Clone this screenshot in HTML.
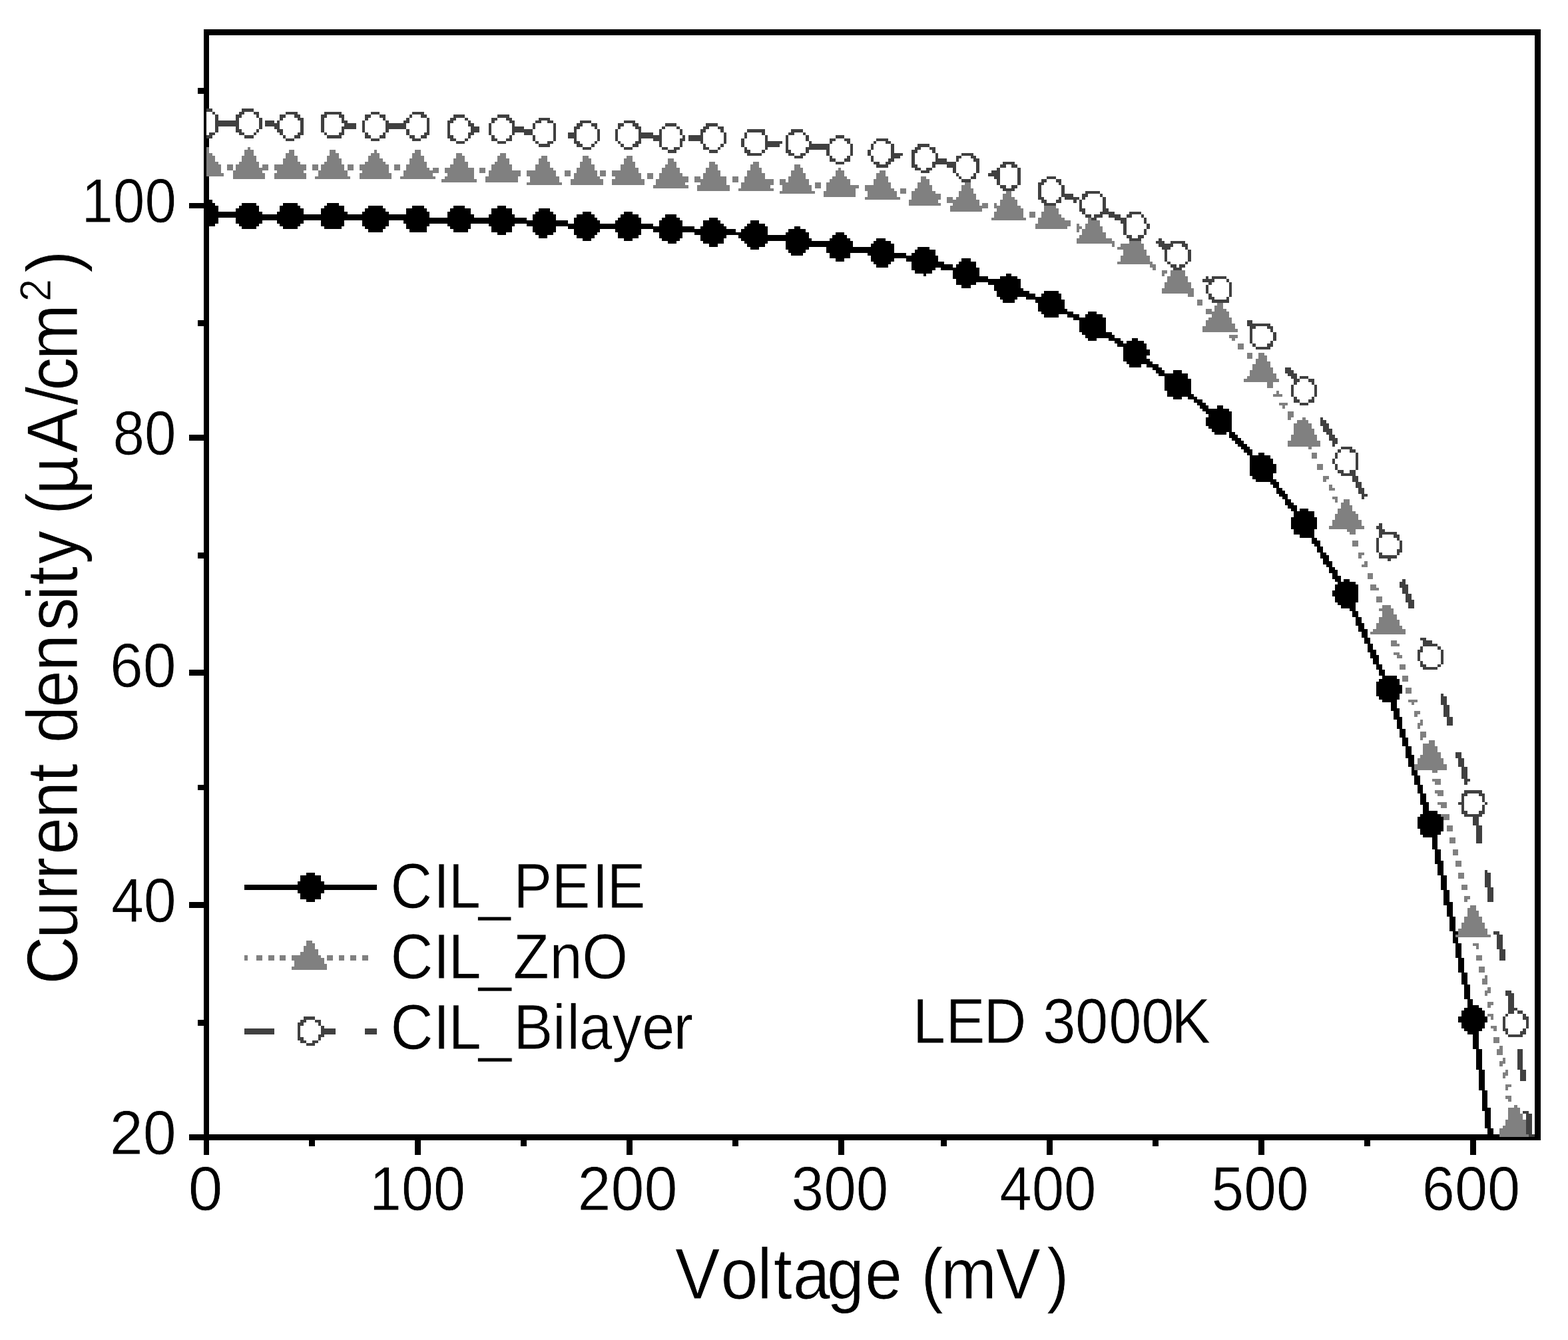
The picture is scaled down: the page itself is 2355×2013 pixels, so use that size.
<!DOCTYPE html>
<html lang="en">
<head>
<meta charset="utf-8">
<title>Current density vs Voltage</title>
<style>
html,body{margin:0;padding:0;background:#fff;}
body{width:2355px;height:2013px;overflow:hidden;}
svg{display:block;}
text{font-family:"Liberation Sans",Arial,Helvetica,sans-serif;fill:#000;stroke:#fff;stroke-width:0.8px;font-kerning:none;text-rendering:geometricPrecision;}
</style>
</head>
<body>
<svg width="2355" height="2013" viewBox="0 0 2355 2013" role="img" aria-label="Current density versus voltage for CIL_PEIE, CIL_ZnO and CIL_Bilayer under LED 3000K">
<rect x="0" y="0" width="2355" height="2013" fill="#fff"/>
<g shape-rendering="crispEdges" fill="#000">
<rect x="306" y="44" width="2008" height="9"/>
<rect x="306" y="1704" width="2008" height="9"/>
<rect x="306" y="44" width="8" height="1691"/>
<rect x="2305" y="44" width="9" height="1669"/>
<rect x="284" y="305" width="22" height="8"/>
<rect x="284" y="653" width="22" height="9"/>
<rect x="284" y="1006" width="22" height="9"/>
<rect x="284" y="1355" width="22" height="9"/>
<rect x="284" y="1704" width="22" height="9"/>
<rect x="297" y="132" width="9" height="9"/>
<rect x="297" y="481" width="9" height="9"/>
<rect x="297" y="830" width="9" height="9"/>
<rect x="297" y="1179" width="9" height="8"/>
<rect x="297" y="1532" width="9" height="9"/>
<rect x="623" y="1713" width="9" height="22"/>
<rect x="941" y="1713" width="9" height="22"/>
<rect x="1259" y="1713" width="9" height="22"/>
<rect x="1572" y="1713" width="9" height="22"/>
<rect x="1890" y="1713" width="9" height="22"/>
<rect x="2208" y="1713" width="9" height="22"/>
<rect x="464" y="1713" width="9" height="9"/>
<rect x="782" y="1713" width="9" height="9"/>
<rect x="1100" y="1713" width="9" height="9"/>
<rect x="1413" y="1713" width="9" height="9"/>
<rect x="1731" y="1713" width="9" height="9"/>
<rect x="2049" y="1713" width="9" height="9"/>
</g>
<g shape-rendering="crispEdges">
<path fill="#000" d="M310 300h9v5h-9zM363 305h22v4h-22zM310 305h13v4h-13zM425 305h22v4h-22zM491 305h18v4h-18zM420 309h31v4h-31zM619 309h18v4h-18zM359 309h30v4h-30zM747 309h13v4h-13zM487 309h30v4h-30zM681 309h17v4h-17zM553 309h22v4h-22zM310 309h18v9h-18zM482 313h35v5h-35zM548 313h31v5h-31zM420 313h36v5h-36zM676 313h31v5h-31zM809 313h17v5h-17zM354 313h35v5h-35zM610 313h31v5h-31zM738 313h31v9h-31zM544 318h40v4h-40zM416 318h40v4h-40zM672 318h35v4h-35zM310 318h84v4h-84zM875 318h13v4h-13zM482 318h40v4h-40zM804 318h27v4h-27zM610 318h35v4h-35zM937 318h13v4h-13zM310 322h335v5h-335zM866 322h27v5h-27zM999 322h17v5h-17zM734 322h39v5h-39zM932 322h27v5h-27zM672 322h40v5h-40zM800 322h35v9h-35zM994 327h27v4h-27zM1065 327h13v4h-13zM928 327h35v4h-35zM862 327h35v4h-35zM354 327h437v4h-437zM310 327h18v9h-18zM1127 331h13v5h-13zM416 331h40v5h-40zM606 331h247v5h-247zM924 331h39v5h-39zM862 331h39v5h-39zM354 331h40v5h-40zM1056 331h26v5h-26zM482 331h35v9h-35zM544 331h40v9h-40zM990 331h35v9h-35zM672 336h35v4h-35zM310 336h13v4h-13zM1056 336h31v4h-31zM420 336h31v4h-31zM359 336h30v4h-30zM734 336h39v4h-39zM791 336h190v4h-190zM610 336h35v4h-35zM1122 336h27v4h-27zM363 340h22v4h-22zM548 340h31v4h-31zM1052 340h39v4h-39zM676 340h31v4h-31zM487 340h26v4h-26zM1193 340h9v4h-9zM853 340h190v4h-190zM425 340h22v4h-22zM1118 340h35v4h-35zM610 340h31v4h-31zM738 340h31v9h-31zM800 340h35v9h-35zM615 344h26v5h-26zM924 344h39v5h-39zM862 344h39v5h-39zM981 344h124v5h-124zM681 344h22v5h-22zM1184 344h26v5h-26zM553 344h22v5h-22zM1113 344h40v5h-40zM928 349h35v4h-35zM747 349h13v4h-13zM862 349h35v4h-35zM1180 349h35v4h-35zM804 349h27v4h-27zM1043 349h110v4h-110zM1255 349h13v4h-13zM990 349h35v9h-35zM1052 353h39v5h-39zM1250 353h22v5h-22zM928 353h31v5h-31zM866 353h27v5h-27zM1109 353h106v5h-106zM809 353h13v5h-13zM1113 358h106v4h-106zM994 358h27v4h-27zM1246 358h31v4h-31zM1316 358h14v4h-14zM875 358h13v4h-13zM1052 358h35v4h-35zM937 358h13v4h-13zM1003 362h13v4h-13zM1056 362h31v4h-31zM1312 362h26v4h-26zM1118 362h35v4h-35zM1180 362h101v9h-101zM1122 366h27v5h-27zM1065 366h13v5h-13zM1308 366h35v5h-35zM1127 371h13v4h-13zM1378 371h18v4h-18zM1180 371h35v4h-35zM1241 371h102v9h-102zM1374 375h31v5h-31zM1184 375h26v5h-26zM1188 380h18v4h-18zM1369 380h36v4h-36zM1303 380h58v4h-58zM1246 380h31v8h-31zM1308 384h101v4h-101zM1444 388h14v5h-14zM1308 388h35v5h-35zM1361 388h48v5h-48zM1255 388h13v5h-13zM1440 393h26v4h-26zM1312 393h26v4h-26zM1369 393h49v4h-49zM1369 397h62v5h-62zM1436 397h30v5h-30zM1316 397h18v5h-18zM1369 402h36v4h-36zM1413 402h58v4h-58zM1374 406h26v5h-26zM1431 406h40v9h-40zM1511 411h8v4h-8zM1387 411h4v4h-4zM1502 415h26v4h-26zM1431 415h53v4h-53zM1436 419h97v5h-97zM1436 424h30v4h-30zM1484 424h49v4h-49zM1493 428h40v5h-40zM1444 428h14v5h-14zM1493 433h44v4h-44zM1568 437h22v4h-22zM1497 437h49v4h-49zM1564 441h30v5h-30zM1497 441h58v5h-58zM1502 446h26v4h-26zM1541 446h53v4h-53zM1555 450h44v5h-44zM1506 450h18v5h-18zM1559 455h40v9h-40zM1559 464h44v4h-44zM1634 468h13v4h-13zM1564 468h48v4h-48zM1568 472h22v5h-22zM1603 472h18v5h-18zM1630 472h26v5h-26zM1612 477h49v4h-49zM1621 481h40v18h-40zM1625 499h45v4h-45zM1630 503h44v5h-44zM1634 508h13v4h-13zM1700 508h9v4h-9zM1665 508h18v4h-18zM1692 512h26v4h-26zM1674 512h13v4h-13zM1678 516h44v5h-44zM1687 521h35v4h-35zM1687 525h40v9h-40zM1687 534h35v5h-35zM1687 539h40v4h-40zM1692 543h39v4h-39zM1722 547h18v5h-18zM1696 547h18v5h-18zM1731 552h14v4h-14zM1736 556h13v5h-13zM1762 556h13v5h-13zM1740 561h44v4h-44zM1749 565h35v4h-35zM1749 569h40v18h-40zM1753 587h36v5h-36zM1753 592h40v4h-40zM1784 596h14v4h-14zM1762 596h13v4h-13zM1793 600h13v5h-13zM1798 605h13v4h-13zM1828 609h9v5h-9zM1802 609h13v5h-13zM1806 614h40v4h-40zM1811 618h39v4h-39zM1815 622h35v5h-35zM1811 627h39v13h-39zM1815 640h35v4h-35zM1820 644h30v5h-30zM1824 649h18v4h-18zM1846 649h9v4h-9zM1846 653h13v5h-13zM1850 658h14v4h-14zM1855 662h13v5h-13zM1859 667h14v4h-14zM1864 671h13v4h-13zM1868 675h13v5h-13zM1873 680h8v4h-8zM1890 680h9v4h-9zM1877 684h31v5h-31zM1877 689h35v8h-35zM1877 697h40v14h-40zM1877 711h35v4h-35zM1881 715h31v5h-31zM1886 720h31v4h-31zM1908 724h13v4h-13zM1912 728h9v5h-9zM1917 733h9v4h-9zM1917 737h13v5h-13zM1921 742h13v4h-13zM1926 746h8v4h-8zM1930 750h9v5h-9zM1930 755h13v4h-13zM1934 759h14v5h-14zM1939 764h9v4h-9zM1952 764h13v4h-13zM1943 768h31v9h-31zM1939 777h39v18h-39zM1943 795h31v8h-31zM1952 803h22v5h-22zM1970 808h8v4h-8zM1970 812h13v5h-13zM1974 817h9v4h-9zM1978 821h9v9h-9zM1983 830h9v4h-9zM1983 834h13v5h-13zM1987 839h9v4h-9zM1987 843h14v5h-14zM1992 848h9v4h-9zM1996 852h9v4h-9zM1996 856h13v5h-13zM2001 861h8v4h-8zM2001 865h13v5h-13zM2018 870h9v4h-9zM2005 870h9v4h-9zM2009 874h27v4h-27zM2005 878h35v9h-35zM2001 887h39v9h-39zM2005 896h35v9h-35zM2009 905h27v4h-27zM2014 909h22v5h-22zM2027 914h9v4h-9zM2031 918h9v9h-9zM2036 927h9v9h-9zM2036 936h13v4h-13zM2040 940h9v5h-9zM2040 945h14v4h-14zM2045 949h9v9h-9zM2049 958h9v9h-9zM2054 967h8v9h-8zM2054 976h13v4h-13zM2058 980h9v4h-9zM2058 984h13v5h-13zM2062 989h9v9h-9zM2067 998h9v8h-9zM2071 1006h9v9h-9zM2076 1015h22v5h-22zM2071 1020h31v4h-31zM2067 1024h35v5h-35zM2067 1029h39v13h-39zM2067 1042h35v4h-35zM2071 1046h31v5h-31zM2076 1051h22v4h-22zM2089 1055h9v9h-9zM2089 1064h13v4h-13zM2093 1068h9v9h-9zM2093 1077h13v4h-13zM2098 1081h8v14h-8zM2102 1095h9v13h-9zM2106 1108h9v13h-9zM2111 1121h9v13h-9zM2111 1134h13v5h-13zM2115 1139h9v13h-9zM2120 1152h4v5h-4zM2120 1157h9v8h-9zM2124 1165h9v14h-9zM2129 1179h8v13h-8zM2133 1192h9v13h-9zM2133 1205h13v4h-13zM2137 1209h9v9h-9zM2137 1218h22v5h-22zM2133 1223h31v4h-31zM2129 1227h39v18h-39zM2133 1245h35v4h-35zM2133 1249h31v5h-31zM2137 1254h22v4h-22zM2151 1258h8v18h-8zM2155 1276h9v17h-9zM2155 1293h13v5h-13zM2159 1298h9v17h-9zM460 1311h13v4h-13zM451 1315h31v9h-31zM447 1324h40v5h-40zM2164 1315h9v22h-9zM367 1329h199v8h-199zM447 1337h40v5h-40zM451 1342h31v9h-31zM2168 1337h9v18h-9zM460 1351h13v4h-13zM2168 1355h14v5h-14zM2173 1360h9v17h-9zM2177 1377h9v22h-9zM2182 1399h8v5h-8zM2182 1404h4v4h-4zM2182 1408h8v9h-8zM2186 1417h9v22h-9zM2190 1439h9v22h-9zM2195 1461h9v18h-9zM2199 1479h9v22h-9zM2204 1501h8v9h-8zM2204 1510h17v4h-17zM2199 1514h27v4h-27zM2195 1518h35v9h-35zM2190 1527h44v9h-44zM2195 1536h35v9h-35zM2199 1545h27v4h-27zM2204 1549h17v5h-17zM2212 1554h9v22h-9zM2217 1576h9v31h-9zM2221 1607h9v31h-9zM2226 1638h8v26h-8zM2226 1664h13v5h-13zM2230 1669h9v26h-9zM2234 1695h9v13h-9z"/>
<path fill="#808080" d="M372 221h4v4h-4zM310 221h4v9h-4zM562 225h4v5h-4zM495 225h9v5h-9zM623 225h9v5h-9zM434 225h8v5h-8zM367 225h14v9h-14zM495 230h14v4h-14zM429 230h13v4h-13zM685 230h9v4h-9zM751 230h9v4h-9zM310 230h9v4h-9zM619 230h13v4h-13zM557 230h13v4h-13zM553 234h17v4h-17zM813 234h9v4h-9zM619 234h18v4h-18zM491 234h18v4h-18zM941 234h9v4h-9zM747 234h13v4h-13zM685 234h13v4h-13zM875 234h9v4h-9zM429 234h18v4h-18zM363 234h22v9h-22zM310 234h13v9h-13zM747 238h18v5h-18zM615 238h22v5h-22zM809 238h13v5h-13zM875 238h13v5h-13zM681 238h17v5h-17zM553 238h22v5h-22zM425 238h22v5h-22zM1003 238h9v5h-9zM937 238h13v5h-13zM491 238h22v5h-22zM615 243h26v4h-26zM548 243h31v4h-31zM1131 243h9v4h-9zM1065 243h9v4h-9zM871 243h17v4h-17zM425 243h26v4h-26zM359 243h30v4h-30zM743 243h22v4h-22zM809 243h17v4h-17zM681 243h22v4h-22zM1003 243h13v4h-13zM937 243h17v4h-17zM310 243h18v4h-18zM487 243h26v4h-26zM1193 247h9v5h-9zM932 247h22v5h-22zM871 247h22v5h-22zM676 247h27v5h-27zM1127 247h13v5h-13zM1065 247h13v5h-13zM394 247h9v5h-9zM354 247h35v5h-35zM610 247h31v5h-31zM999 247h17v5h-17zM804 247h22v5h-22zM522 247h9v9h-9zM482 247h35v9h-35zM738 247h31v9h-31zM341 247h9v9h-9zM540 247h44v9h-44zM469 247h9v9h-9zM592 247h9v9h-9zM412 247h48v9h-48zM1060 252h18v4h-18zM1127 252h17v4h-17zM650 252h9v4h-9zM610 252h35v4h-35zM866 252h27v4h-27zM804 252h27v4h-27zM354 252h49v4h-49zM1259 252h4v4h-4zM1193 252h13v4h-13zM932 252h27v4h-27zM310 247h22v13h-22zM994 252h27v8h-27zM668 252h44v8h-44zM720 252h9v8h-9zM1188 256h18v4h-18zM866 256h31v4h-31zM919 256h40v4h-40zM416 256h40v4h-40zM1321 256h9v4h-9zM1060 256h22v4h-22zM544 256h40v4h-40zM1122 256h22v4h-22zM350 256h44v4h-44zM606 256h53v4h-53zM848 256h9v9h-9zM478 256h44v9h-44zM734 256h48v9h-48zM1255 256h13v9h-13zM791 256h44v9h-44zM901 256h9v9h-9zM919 260h44v5h-44zM672 260h40v5h-40zM990 260h35v5h-35zM310 260h26v5h-26zM1122 260h27v5h-27zM606 260h44v5h-44zM1316 260h14v5h-14zM862 260h35v5h-35zM1188 260h22v5h-22zM1056 260h26v5h-26zM972 260h9v9h-9zM350 260h48v9h-48zM412 260h48v9h-48zM540 260h48v9h-48zM1250 265h22v4h-22zM1056 265h35v4h-35zM1184 265h26v4h-26zM473 265h53v4h-53zM668 265h44v4h-44zM990 265h44v4h-44zM1316 265h18v4h-18zM1383 265h8v4h-8zM924 265h39v4h-39zM862 265h39v4h-39zM1043 265h9v4h-9zM601 265h53v4h-53zM1118 265h31v4h-31zM729 265h49v9h-49zM1100 265h9v9h-9zM796 265h44v9h-44zM985 269h49v5h-49zM1171 269h9v5h-9zM1312 269h22v5h-22zM1043 269h48v5h-48zM1118 269h44v5h-44zM1246 269h31v5h-31zM1184 269h31v5h-31zM1383 269h13v5h-13zM663 269h53v5h-53zM857 269h49v9h-49zM919 269h49v9h-49zM1052 274h39v4h-39zM1113 274h49v4h-49zM1241 274h36v4h-36zM1449 274h9v4h-9zM985 274h44v4h-44zM791 274h53v4h-53zM1378 274h18v4h-18zM1171 274h44v4h-44zM1312 274h26v4h-26zM1224 274h9v9h-9zM1241 278h49v5h-49zM981 278h53v5h-53zM1113 278h44v5h-44zM1378 278h22v5h-22zM1444 278h14v5h-14zM1299 278h39v5h-39zM1175 278h44v9h-44zM1047 278h49v9h-49zM1299 283h44v4h-44zM1374 283h26v4h-26zM1444 283h18v4h-18zM1109 283h53v4h-53zM1241 283h44v4h-44zM1352 283h9v8h-9zM1171 287h53v4h-53zM1369 287h36v4h-36zM1440 287h22v4h-22zM1511 287h8v4h-8zM1303 287h44v9h-44zM1237 287h48v9h-48zM1506 291h13v5h-13zM1440 291h26v5h-26zM1369 291h44v9h-44zM1436 296h30v4h-30zM1422 296h9v4h-9zM1299 296h53v4h-53zM1506 296h18v4h-18zM1422 300h49v5h-49zM1365 300h44v5h-44zM1502 300h26v9h-26zM1493 305h4v4h-4zM1431 305h40v4h-40zM1365 305h48v4h-48zM1475 305h9v4h-9zM1427 309h57v4h-57zM1493 309h40v4h-40zM1568 309h18v4h-18zM1497 313h40v5h-40zM1427 313h48v5h-48zM1568 313h22v5h-22zM1564 318h26v4h-26zM1493 318h44v9h-44zM1546 318h9v9h-9zM1564 322h30v5h-30zM1559 327h40v4h-40zM1489 327h52v4h-52zM1634 327h5v4h-5zM1559 331h49v5h-49zM1634 331h18v5h-18zM1617 336h4v4h-4zM1555 336h53v4h-53zM1630 336h22v4h-22zM1555 340h48v4h-48zM1617 340h8v4h-8zM1630 340h26v4h-26zM1617 344h4v5h-4zM1625 344h31v5h-31zM1625 349h36v4h-36zM1621 353h40v5h-40zM1617 358h53v4h-53zM1617 362h57v4h-57zM1696 362h18v4h-18zM1670 366h4v5h-4zM1683 366h35v5h-35zM1678 371h40v4h-40zM1687 375h35v9h-35zM1683 384h44v9h-44zM1678 393h53v4h-53zM1727 397h9v5h-9zM1731 402h5v4h-5zM1745 406h8v5h-8zM1758 406h22v9h-22zM1745 411h4v4h-4zM1753 415h31v9h-31zM1749 424h40v9h-40zM1745 433h48v8h-48zM1784 441h9v5h-9zM1798 450h8v9h-8zM1828 455h9v4h-9zM1824 459h13v5h-13zM1811 464h9v4h-9zM1824 464h18v4h-18zM1811 468h35v4h-35zM1820 472h26v5h-26zM1815 477h35v4h-35zM1811 481h39v5h-39zM1811 486h44v4h-44zM1806 490h49v4h-49zM1806 494h53v5h-53zM1846 503h13v5h-13zM1850 508h5v4h-5zM1859 516h9v9h-9zM1890 530h9v4h-9zM1873 530h8v9h-8zM1890 534h13v5h-13zM1886 539h17v4h-17zM1886 543h22v4h-22zM1881 547h27v5h-27zM1881 552h31v4h-31zM1877 556h35v5h-35zM1877 561h40v4h-40zM1873 565h44v4h-44zM1868 569h53v5h-53zM1903 574h9v9h-9zM1917 587h4v5h-4zM1912 592h14v4h-14zM1921 605h13v4h-13zM1926 609h4v5h-4zM1934 618h9v9h-9zM1956 627h5v4h-5zM1934 627h5v4h-5zM1948 631h17v5h-17zM1943 636h27v8h-27zM1943 644h31v9h-31zM1939 653h39v9h-39zM1934 662h49v9h-49zM1965 671h5v4h-5zM1970 680h8v9h-8zM1978 697h9v9h-9zM1987 715h9v5h-9zM1987 720h5v4h-5zM1996 728h5v5h-5zM1996 733h9v4h-9zM2001 746h8v4h-8zM2018 750h9v5h-9zM2005 750h4v5h-4zM2014 755h13v4h-13zM2014 759h17v5h-17zM2009 764h22v4h-22zM2009 768h27v4h-27zM2005 772h35v9h-35zM2001 781h44v9h-44zM1996 790h53v5h-53zM2023 795h13v4h-13zM2027 799h9v4h-9zM2031 812h9v9h-9zM2040 830h9v4h-9zM2040 834h5v5h-5zM2049 843h5v5h-5zM2045 848h9v4h-9zM2054 861h8v9h-8zM2058 878h9v5h-9zM2058 883h13v4h-13zM2067 896h9v9h-9zM2076 909h13v5h-13zM2071 914h22v4h-22zM2076 918h17v5h-17zM2076 923h22v4h-22zM2071 927h27v4h-27zM2071 931h31v5h-31zM2067 936h35v4h-35zM2067 940h39v5h-39zM2062 945h49v4h-49zM2058 949h53v4h-53zM2089 962h9v5h-9zM2089 967h13v4h-13zM2093 980h9v4h-9zM2098 984h8v5h-8zM2102 998h9v8h-9zM2106 1015h9v9h-9zM2111 1033h9v9h-9zM2115 1051h14v4h-14zM2120 1055h4v4h-4zM2124 1068h9v5h-9zM2124 1073h5v4h-5zM2133 1081h4v5h-4zM2129 1086h8v4h-8zM2129 1090h4v5h-4zM2133 1099h9v9h-9zM2133 1108h4v4h-4zM2146 1112h9v5h-9zM2137 1117h18v4h-18zM2137 1121h22v9h-22zM2137 1130h27v4h-27zM2133 1134h31v5h-31zM2129 1139h39v9h-39zM2124 1148h49v9h-49zM2151 1157h8v4h-8zM2151 1170h13v4h-13zM2155 1174h9v5h-9zM2155 1187h13v5h-13zM2159 1192h9v4h-9zM2159 1205h14v4h-14zM2164 1209h9v5h-9zM2164 1223h13v4h-13zM2168 1227h9v5h-9zM2173 1240h9v9h-9zM2177 1258h9v9h-9zM2182 1276h8v9h-8zM2186 1293h9v9h-9zM2190 1311h9v9h-9zM2195 1329h9v8h-9zM2199 1346h9v5h-9zM2199 1351h5v4h-5zM2208 1360h9v4h-9zM2204 1364h13v4h-13zM2204 1368h17v9h-17zM2199 1377h27v9h-27zM2195 1386h35v9h-35zM2190 1395h44v9h-44zM2186 1404h53v4h-53zM460 1413h9v4h-9zM2212 1417h9v4h-9zM460 1417h13v4h-13zM456 1421h17v5h-17zM2217 1421h4v5h-4zM456 1426h22v4h-22zM451 1430h27v5h-27zM438 1435h44v4h-44zM491 1435h9v8h-9zM526 1435h9v8h-9zM544 1435h9v8h-9zM385 1435h9v8h-9zM2217 1435h9v8h-9zM509 1435h8v8h-8zM403 1435h9v8h-9zM420 1435h9v8h-9zM367 1435h5v8h-5zM438 1439h49v4h-49zM442 1443h45v5h-45zM442 1448h49v4h-49zM438 1452h53v5h-53zM2221 1452h9v9h-9zM2230 1465h4v5h-4zM2226 1470h8v9h-8zM2234 1483h5v5h-5zM2230 1488h9v4h-9zM2230 1492h4v4h-4zM2234 1505h9v5h-9zM2234 1510h5v4h-5zM2234 1523h9v4h-9zM2239 1527h4v5h-4zM2239 1541h9v4h-9zM2243 1545h5v4h-5zM2243 1558h9v9h-9zM2252 1571h5v5h-5zM2248 1576h9v9h-9zM2257 1589h4v5h-4zM2252 1594h9v4h-9zM2252 1598h5v4h-5zM2261 1607h4v4h-4zM2257 1611h8v5h-8zM2257 1616h4v4h-4zM2261 1629h9v4h-9zM2261 1633h4v5h-4zM2261 1646h9v5h-9zM2265 1651h5v4h-5zM2274 1660h5v4h-5zM2265 1664h18v9h-18zM2265 1673h22v9h-22zM2261 1682h31v9h-31zM2257 1691h35v4h-35zM2252 1695h40v9h-40zM2252 1704h44v4h-44z"/>
<path fill="#404040" d="M310 163h9v5h-9zM363 163h18v5h-18zM359 168h8v4h-8zM619 168h18v4h-18zM319 168h4v4h-4zM381 168h8v4h-8zM487 168h26v4h-26zM557 168h13v4h-13zM429 168h18v4h-18zM570 172h9v5h-9zM747 172h18v5h-18zM442 172h9v5h-9zM681 172h17v5h-17zM385 172h4v5h-4zM615 172h4v5h-4zM509 172h8v5h-8zM548 172h9v5h-9zM482 172h9v5h-9zM354 172h9v5h-9zM420 172h9v5h-9zM632 172h9v5h-9zM323 172h5v9h-5zM354 177h5v4h-5zM548 177h5v4h-5zM610 177h5v4h-5zM760 177h9v4h-9zM447 177h9v4h-9zM420 177h5v4h-5zM698 177h5v4h-5zM809 177h17v4h-17zM575 177h4v4h-4zM738 177h9v4h-9zM513 177h4v4h-4zM676 177h9v4h-9zM416 181h4v4h-4zM606 181h9v4h-9zM765 181h8v4h-8zM579 181h5v4h-5zM703 181h4v4h-4zM672 181h9v4h-9zM398 181h14v4h-14zM513 181h9v4h-9zM871 181h17v4h-17zM822 181h9v4h-9zM937 181h17v4h-17zM804 181h9v4h-9zM738 181h5v4h-5zM323 181h36v9h-36zM1060 185h18v5h-18zM888 185h9v5h-9zM928 185h9v5h-9zM517 185h18v5h-18zM950 185h9v5h-9zM769 185h4v5h-4zM398 185h22v5h-22zM999 185h17v5h-17zM866 185h9v5h-9zM703 185h9v5h-9zM389 177h5v17h-5zM800 185h4v9h-4zM579 185h31v9h-31zM354 190h5v4h-5zM1056 190h9v4h-9zM928 190h4v4h-4zM1078 190h9v4h-9zM954 190h9v4h-9zM412 190h8v4h-8zM513 190h22v4h-22zM1016 190h5v4h-5zM769 190h18v4h-18zM994 190h5v4h-5zM893 190h4v4h-4zM862 190h9v4h-9zM482 177h5v22h-5zM641 177h4v22h-4zM544 181h4v18h-4zM451 181h5v18h-5zM323 190h5v9h-5zM707 190h13v9h-13zM1082 194h5v5h-5zM1052 194h8v5h-8zM862 194h4v5h-4zM579 194h5v5h-5zM1188 194h18v5h-18zM1122 194h27v5h-27zM385 194h4v5h-4zM769 194h31v5h-31zM354 194h9v5h-9zM416 194h9v5h-9zM959 194h4v5h-4zM513 194h4v5h-4zM734 185h4v18h-4zM672 185h4v18h-4zM990 194h4v9h-4zM610 194h5v9h-5zM1021 194h4v9h-4zM359 199h8v4h-8zM1144 199h5v4h-5zM1206 199h4v4h-4zM447 199h9v4h-9zM420 199h5v4h-5zM509 199h8v4h-8zM1052 199h4v4h-4zM381 199h4v4h-4zM959 199h22v4h-22zM487 199h4v4h-4zM769 199h4v4h-4zM314 199h9v4h-9zM637 199h8v4h-8zM1184 199h9v4h-9zM548 199h5v4h-5zM787 199h13v4h-13zM575 199h4v4h-4zM703 199h9v4h-9zM853 199h13v9h-13zM1118 199h4v9h-4zM442 203h9v5h-9zM367 203h14v5h-14zM1025 203h4v5h-4zM765 203h4v5h-4zM703 203h4v5h-4zM548 203h9v5h-9zM672 203h9v5h-9zM425 203h4v5h-4zM632 203h9v5h-9zM491 203h22v5h-22zM570 203h9v5h-9zM959 203h35v5h-35zM615 203h8v5h-8zM310 203h9v5h-9zM1255 203h13v5h-13zM738 203h5v5h-5zM831 185h4v27h-4zM924 194h4v18h-4zM897 194h4v18h-4zM800 203h4v9h-4zM1149 203h4v9h-4zM1034 203h22v9h-22zM1210 203h5v9h-5zM429 208h13v4h-13zM698 208h5v4h-5zM862 208h4v4h-4zM981 208h13v4h-13zM619 208h13v4h-13zM557 208h13v4h-13zM1316 208h18v4h-18zM1021 208h8v4h-8zM738 208h9v4h-9zM676 208h9v4h-9zM1246 208h9v4h-9zM760 208h9v4h-9zM959 208h4v4h-4zM1268 208h9v4h-9zM1087 199h4v17h-4zM1246 212h4v4h-4zM804 212h5v4h-5zM1272 212h5v4h-5zM1312 212h4v4h-4zM928 212h4v4h-4zM1052 212h4v4h-4zM954 212h9v4h-9zM1215 212h4v4h-4zM1149 212h26v4h-26zM893 212h4v4h-4zM685 212h13v4h-13zM1330 212h8v4h-8zM747 212h13v4h-13zM822 212h9v4h-9zM862 212h9v4h-9zM1113 208h5v13h-5zM990 212h4v9h-4zM1021 212h4v9h-4zM932 216h5v5h-5zM1082 216h5v5h-5zM1215 216h31v5h-31zM1056 216h4v5h-4zM809 216h17v5h-17zM950 216h9v5h-9zM888 216h5v5h-5zM866 216h9v5h-9zM1378 216h18v5h-18zM1149 216h22v5h-22zM1180 203h4v22h-4zM1308 216h4v9h-4zM1118 221h4v4h-4zM1056 221h9v4h-9zM1210 221h36v4h-36zM994 221h9v4h-9zM875 221h13v4h-13zM1078 221h4v4h-4zM1374 221h9v4h-9zM1396 221h9v4h-9zM1149 221h4v4h-4zM937 221h13v4h-13zM1012 221h9v4h-9zM1338 216h5v14h-5zM1065 225h13v5h-13zM1144 225h5v5h-5zM1369 225h9v5h-9zM1210 225h5v5h-5zM1180 225h8v5h-8zM1003 225h13v5h-13zM1118 225h9v5h-9zM1400 225h5v5h-5zM1277 216h4v18h-4zM1241 225h5v9h-5zM1303 225h5v9h-5zM1184 230h9v4h-9zM1202 230h8v4h-8zM1122 230h22v4h-22zM1444 230h18v4h-18zM1338 230h18v4h-18zM1405 230h4v8h-4zM1436 234h8v4h-8zM1193 234h13v4h-13zM1246 234h4v4h-4zM1272 234h5v4h-5zM1458 234h8v4h-8zM1338 234h14v4h-14zM1308 234h4v9h-4zM1436 238h4v5h-4zM1334 238h9v5h-9zM1462 238h9v5h-9zM1268 238h9v5h-9zM1246 238h9v5h-9zM1405 238h17v5h-17zM1369 230h5v17h-5zM1330 243h8v4h-8zM1506 243h18v4h-18zM1400 243h36v4h-36zM1255 243h13v4h-13zM1312 243h9v4h-9zM1422 247h14v5h-14zM1316 247h18v5h-18zM1369 247h9v5h-9zM1519 247h9v5h-9zM1502 247h9v5h-9zM1400 247h5v5h-5zM1497 252h5v4h-5zM1374 252h9v4h-9zM1391 252h9v4h-9zM1466 243h5v17h-5zM1431 252h5v8h-5zM1489 256h13v4h-13zM1383 256h13v4h-13zM1436 260h4v5h-4zM1462 260h4v5h-4zM1484 260h18v5h-18zM1572 265h14v4h-14zM1440 265h4v4h-4zM1493 265h9v4h-9zM1458 265h8v4h-8zM1564 269h8v5h-8zM1444 269h14v5h-14zM1586 269h8v5h-8zM1528 252h5v26h-5zM1497 269h5v9h-5zM1590 274h4v4h-4zM1559 274h9v4h-9zM1502 278h9v5h-9zM1519 278h9v5h-9zM1506 283h18v4h-18zM1594 278h5v13h-5zM1630 287h22v4h-22zM1559 278h5v18h-5zM1594 291h18v5h-18zM1625 291h9v5h-9zM1652 291h4v5h-4zM1590 296h4v4h-4zM1625 296h5v4h-5zM1559 296h9v4h-9zM1599 296h22v4h-22zM1564 300h8v5h-8zM1612 300h5v5h-5zM1586 300h8v5h-8zM1568 305h18v4h-18zM1656 296h5v17h-5zM1621 300h4v13h-4zM1621 313h9v5h-9zM1656 313h9v5h-9zM1625 318h5v4h-5zM1652 318h22v4h-22zM1696 318h18v4h-18zM1692 322h8v5h-8zM1665 322h18v5h-18zM1643 322h13v5h-13zM1630 322h9v5h-9zM1714 322h4v5h-4zM1674 327h18v4h-18zM1639 327h8v4h-8zM1718 327h4v9h-4zM1683 331h9v5h-9zM1722 336h5v8h-5zM1687 336h5v17h-5zM1718 344h4v9h-4zM1709 353h9v5h-9zM1692 353h8v5h-8zM1740 358h5v4h-5zM1696 358h18v4h-18zM1736 362h13v4h-13zM1758 362h22v4h-22zM1775 366h9v5h-9zM1740 366h22v5h-22zM1780 371h4v4h-4zM1745 371h13v4h-13zM1784 375h5v18h-5zM1749 375h4v18h-4zM1753 393h5v4h-5zM1780 393h4v4h-4zM1758 397h9v5h-9zM1771 397h9v5h-9zM1762 402h13v4h-13zM1811 415h4v4h-4zM1820 415h22v4h-22zM1806 419h18v5h-18zM1842 419h4v5h-4zM1815 424h5v4h-5zM1811 428h4v13h-4zM1846 424h4v22h-4zM1815 441h5v5h-5zM1815 446h9v4h-9zM1842 446h4v4h-4zM1820 450h26v5h-26zM1873 481h8v5h-8zM1873 486h35v4h-35zM1903 490h9v4h-9zM1877 490h9v4h-9zM1908 494h4v5h-4zM1912 499h5v13h-5zM1877 494h4v22h-4zM1908 512h4v4h-4zM1881 516h5v5h-5zM1903 516h9v5h-9zM1886 521h22v4h-22zM1930 552h9v4h-9zM1930 556h13v5h-13zM1934 561h14v4h-14zM1939 565h9v4h-9zM1952 565h13v4h-13zM1943 569h9v5h-9zM1965 569h9v5h-9zM1970 574h4v4h-4zM1943 574h5v4h-5zM1939 578h4v18h-4zM1974 578h4v18h-4zM1970 596h4v4h-4zM1943 596h5v4h-5zM1943 600h9v5h-9zM1965 600h9v5h-9zM1952 605h13v4h-13zM1983 627h4v4h-4zM1983 631h9v5h-9zM1983 636h13v4h-13zM1987 640h9v4h-9zM1987 644h14v5h-14zM1992 649h9v4h-9zM1996 653h9v5h-9zM1996 658h13v4h-13zM2001 662h8v5h-8zM2001 667h4v4h-4zM2014 671h17v4h-17zM2027 675h9v5h-9zM2009 675h5v5h-5zM2005 680h4v9h-4zM2001 689h4v8h-4zM2036 680h4v26h-4zM2005 697h4v9h-4zM2009 706h9v5h-9zM2027 706h9v5h-9zM2014 711h22v4h-22zM2031 715h9v9h-9zM2036 724h9v9h-9zM2040 733h9v9h-9zM2045 742h9v4h-9zM2045 746h4v4h-4zM2071 786h5v4h-5zM2067 790h9v5h-9zM2071 795h9v4h-9zM2071 799h27v4h-27zM2093 803h9v5h-9zM2071 803h5v5h-5zM2098 808h4v4h-4zM2102 812h4v13h-4zM2067 808h4v22h-4zM2098 825h8v5h-8zM2098 830h4v4h-4zM2071 830h5v4h-5zM2071 834h27v5h-27zM2084 839h5v4h-5zM2106 870h5v4h-5zM2102 874h9v4h-9zM2102 878h13v5h-13zM2106 883h9v9h-9zM2111 892h9v9h-9zM2111 901h13v4h-13zM2115 905h9v9h-9zM2133 958h9v4h-9zM2137 962h14v5h-14zM2137 967h22v4h-22zM2133 971h4v5h-4zM2159 971h5v5h-5zM2129 976h8v4h-8zM2129 980h4v13h-4zM2164 976h4v22h-4zM2133 993h4v5h-4zM2133 998h9v4h-9zM2159 998h5v4h-5zM2137 1002h22v4h-22zM2164 1042h4v4h-4zM2164 1046h9v13h-9zM2168 1059h9v18h-9zM2173 1077h9v13h-9zM2186 1130h9v9h-9zM2190 1139h9v13h-9zM2195 1152h9v18h-9zM2199 1170h9v4h-9zM2199 1174h5v5h-5zM2199 1187h27v5h-27zM2195 1192h9v4h-9zM2221 1192h9v4h-9zM2226 1196h4v9h-4zM2195 1196h4v9h-4zM2230 1205h4v4h-4zM2190 1205h9v4h-9zM2226 1209h4v9h-4zM2195 1209h4v9h-4zM2195 1218h9v5h-9zM2221 1218h9v5h-9zM2199 1223h27v4h-27zM2212 1227h9v13h-9zM2217 1240h9v27h-9zM2230 1307h4v4h-4zM2230 1311h9v22h-9zM2234 1333h9v22h-9zM2243 1399h9v5h-9zM2248 1404h9v22h-9zM2252 1426h9v17h-9zM2261 1488h9v4h-9zM2261 1492h13v4h-13zM2265 1496h9v18h-9zM2265 1514h14v4h-14zM2279 1518h8v5h-8zM2265 1518h9v5h-9zM2261 1523h4v4h-4zM2287 1523h5v4h-5zM456 1527h17v5h-17zM2287 1527h9v5h-9zM473 1532h9v4h-9zM451 1532h9v4h-9zM478 1536h4v5h-4zM447 1536h9v5h-9zM2257 1527h4v18h-4zM2292 1532h4v13h-4zM482 1541h5v4h-5zM2257 1545h8v4h-8zM2287 1545h5v4h-5zM367 1545h45v9h-45zM482 1545h22v9h-22zM548 1545h18v9h-18zM2261 1549h4v5h-4zM2283 1549h9v5h-9zM447 1541h4v17h-4zM2265 1554h22v4h-22zM478 1554h9v4h-9zM478 1558h4v5h-4zM447 1558h9v5h-9zM451 1563h9v4h-9zM469 1563h9v4h-9zM460 1567h13v4h-13zM2279 1576h8v31h-8zM2283 1607h9v17h-9zM2287 1669h9v4h-9zM2292 1673h9v31h-9zM2296 1704h9v4h-9z"/>
<path fill="#fff" d="M310 168h9v4h-9zM367 168h14v4h-14zM363 172h22v5h-22zM429 172h13v5h-13zM491 172h18v5h-18zM619 172h13v5h-13zM557 172h13v5h-13zM685 177h13v4h-13zM747 177h13v4h-13zM553 177h22v4h-22zM425 177h22v4h-22zM615 177h26v8h-26zM487 177h26v8h-26zM813 181h9v4h-9zM743 181h22v4h-22zM681 181h22v4h-22zM676 185h27v5h-27zM875 185h13v5h-13zM487 185h30v5h-30zM937 185h13v5h-13zM359 177h30v17h-30zM420 181h31v13h-31zM804 185h27v9h-27zM610 185h31v9h-31zM932 190h22v4h-22zM871 190h22v4h-22zM1065 190h13v4h-13zM999 190h17v4h-17zM310 172h13v27h-13zM548 181h31v18h-31zM676 190h31v9h-31zM487 190h26v9h-26zM363 194h22v5h-22zM615 194h26v5h-26zM425 194h26v5h-26zM1060 194h22v5h-22zM738 185h31v18h-31zM994 194h27v9h-27zM800 194h31v9h-31zM1193 199h13v4h-13zM1122 199h22v4h-22zM615 199h22v4h-22zM367 199h14v4h-14zM491 199h18v4h-18zM676 199h27v4h-27zM553 199h22v4h-22zM425 199h22v4h-22zM310 199h4v4h-4zM429 203h13v5h-13zM623 203h9v5h-9zM743 203h22v5h-22zM681 203h22v5h-22zM1122 203h27v5h-27zM994 203h31v5h-31zM557 203h13v5h-13zM866 194h31v18h-31zM928 194h31v18h-31zM804 203h27v9h-27zM1184 203h26v9h-26zM747 208h13v4h-13zM685 208h13v4h-13zM1255 208h13v4h-13zM1056 199h31v17h-31zM932 212h22v4h-22zM871 212h22v4h-22zM1250 212h22v4h-22zM1316 212h14v4h-14zM809 212h13v4h-13zM994 208h27v13h-27zM1118 208h31v13h-31zM1184 212h31v9h-31zM875 216h13v5h-13zM1060 216h22v5h-22zM937 216h13v5h-13zM1312 216h26v9h-26zM1065 221h13v4h-13zM1184 221h26v4h-26zM1383 221h13v4h-13zM1122 221h27v4h-27zM1003 221h9v4h-9zM1378 225h22v5h-22zM1127 225h17v5h-17zM1188 225h22v5h-22zM1246 216h31v18h-31zM1308 225h30v9h-30zM1193 230h9v4h-9zM1444 234h14v4h-14zM1312 234h26v4h-26zM1250 234h22v4h-22zM1374 230h31v13h-31zM1440 238h22v5h-22zM1312 238h22v5h-22zM1255 238h13v5h-13zM1321 243h9v4h-9zM1374 243h26v4h-26zM1511 247h8v5h-8zM1378 247h22v5h-22zM1383 252h8v4h-8zM1436 243h30v17h-30zM1440 260h22v5h-22zM1444 265h14v4h-14zM1572 269h14v5h-14zM1502 252h26v26h-26zM1568 274h22v4h-22zM1511 278h8v5h-8zM1564 278h30v18h-30zM1634 291h18v5h-18zM1568 296h22v4h-22zM1630 296h26v4h-26zM1572 300h14v5h-14zM1625 300h31v13h-31zM1630 313h26v5h-26zM1630 318h22v4h-22zM1700 322h14v5h-14zM1639 322h4v5h-4zM1692 327h26v9h-26zM1692 336h30v8h-30zM1692 344h26v9h-26zM1700 353h9v5h-9zM1762 366h13v5h-13zM1758 371h22v4h-22zM1753 375h31v18h-31zM1758 393h22v4h-22zM1767 397h4v5h-4zM1824 419h18v5h-18zM1820 424h26v4h-26zM1815 428h31v13h-31zM1820 441h26v5h-26zM1824 446h18v4h-18zM1886 490h17v4h-17zM1881 494h27v5h-27zM1881 499h31v13h-31zM1881 512h27v4h-27zM1886 516h17v5h-17zM1952 569h13v5h-13zM1948 574h22v4h-22zM1943 578h31v18h-31zM1948 596h22v4h-22zM1952 600h13v5h-13zM2014 675h13v5h-13zM2009 680h27v9h-27zM2005 689h31v8h-31zM2009 697h27v9h-27zM2018 706h9v5h-9zM2076 803h17v5h-17zM2071 808h27v4h-27zM2071 812h31v13h-31zM2071 825h27v5h-27zM2076 830h22v4h-22zM2137 971h22v5h-22zM2137 976h27v4h-27zM2133 980h31v13h-31zM2137 993h27v5h-27zM2142 998h17v4h-17zM2204 1192h17v4h-17zM2199 1196h27v9h-27zM2199 1205h31v4h-31zM2199 1209h27v9h-27zM2204 1218h17v5h-17zM2274 1518h5v5h-5zM2265 1523h22v4h-22zM2261 1527h26v5h-26zM460 1532h13v4h-13zM456 1536h22v5h-22zM2261 1532h31v13h-31zM2265 1545h22v4h-22zM451 1541h31v13h-31zM2265 1549h18v5h-18zM451 1554h27v4h-27zM456 1558h22v5h-22zM460 1563h9v4h-9z"/>
</g>
<g>
<text transform="translate(586.50,1363.6) scale(0.9020,1)" font-size="96" x="0.0 71.4 96.6 146.7 204.9 268.5 335.8 360.5">CIL_PEIE</text>
<text transform="translate(586.40,1469.8) scale(0.9221,1)" font-size="96" x="0.0 69.8 94.4 143.6 200.0 259.4 312.2">CIL_ZnO</text>
<text transform="translate(586.39,1576.0) scale(0.9248,1)" font-size="96" x="0.0 69.5 94.1 143.2 199.8 263.3 286.5 306.6 360.1 408.4 459.6">CIL_Bilayer</text>
<text transform="translate(1370.83,1567.2) scale(0.9229,1)" font-size="96" x="0.0 53.9 115.6 184.9 211.7 264.6 319.0 372.1 421.0">LED 3000K</text>
<text transform="translate(122.50,333.7) scale(0.9075,1)" font-size="94">100</text>
<text transform="translate(169.49,683.0) scale(0.9091,1)" font-size="94">80</text>
<text transform="translate(164.95,1031.9) scale(0.9541,1)" font-size="94">60</text>
<text transform="translate(166.88,1384.9) scale(0.9369,1)" font-size="94">40</text>
<text transform="translate(164.78,1734.1) scale(0.9557,1)" font-size="94">20</text>
<text transform="translate(282.67,1817.7) scale(0.9881,1)" font-size="94">0</text>
<text transform="translate(555.03,1817.7) scale(0.9178,1)" font-size="94">100</text>
<text transform="translate(867.48,1817.7) scale(0.9566,1)" font-size="94">200</text>
<text transform="translate(1188.57,1817.7) scale(0.9292,1)" font-size="94">300</text>
<text transform="translate(1501.20,1817.7) scale(0.9265,1)" font-size="94">400</text>
<text transform="translate(1819.60,1817.7) scale(0.9304,1)" font-size="94">500</text>
<text transform="translate(2135.71,1817.7) scale(0.9408,1)" font-size="94">600</text>
<text transform="translate(1013.96,1950.6) scale(0.9298,1)" font-size="108.5" x="0.0 73.7 132.6 158.9 190.1 245.0 306.6 366.9 397.1 429.1 518.0 600.1">Voltage (mV)</text>
<text transform="translate(116,1478.8) rotate(-90) scale(0.9225,1)" font-size="108.5" x="0.0 74.9 137.6 171.1 211.5 270.3 329.2 359.3 393.0 451.1 509.7 576.0 625.1 650.6 684.6 738.9 764.9 797.6 866.0 943.4 967.0 1017.0">Current density (µA/cm<tspan font-size="66.0" x="1112.0" dy="-39.6">2</tspan><tspan x="1158.8" dy="39.6">)</tspan></text>
</g>
</svg>
</body>
</html>
